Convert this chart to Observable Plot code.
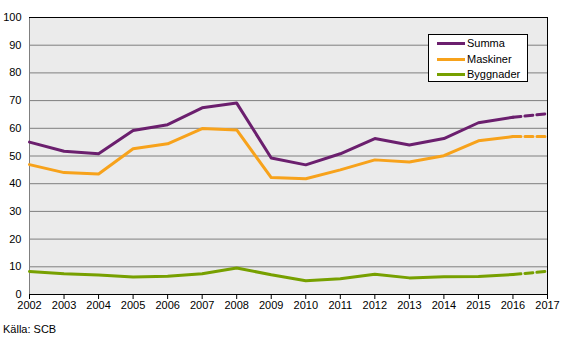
<!DOCTYPE html>
<html>
<head>
<meta charset="utf-8">
<script src="https://cdn.jsdelivr.net/npm/d3@7"></script>
<script src="https://cdn.jsdelivr.net/npm/@observablehq/plot@0.6"></script>
<style>
  html, body { margin: 0; padding: 0; background: #fff; }
  body { width: 567px; height: 341px; position: relative; font-family: "Liberation Sans", Arial, sans-serif; overflow: hidden; }
  #chart svg { display: block; }
  #caption { font-size: 11px; line-height: 13px; padding: 5px 0 0 3px; color: #000; }
  #legend { position: absolute; left: 428px; top: 34px; width: 98px; height: 46px; border: 1px solid #000; background: #fff; font-size: 11px; }
  .row { position: absolute; left: 8px; height: 14px; display: flex; align-items: center; }
  .sw { width: 28px; height: 3px; margin-right: 2px; }
</style>
</head>
<body>
<div id="chart"></div>
<div id="caption">Källa: SCB</div>
<div id="legend"></div>
<script>
const years = [2002,2003,2004,2005,2006,2007,2008,2009,2010,2011,2012,2013,2014,2015,2016,2017];
const seriesNames = ["Summa","Maskiner","Byggnader"];
const seriesColors = ["#6b1f6e","#f7a21b","#77a000"];
const summa =     [55.0,51.7,50.8,59.2,61.3,67.4,69.1,49.3,46.8,50.8,56.3,54.0,56.3,62.0,64.0,65.3];
const maskiner =  [46.9,44.0,43.5,52.6,54.4,59.9,59.4,42.2,41.8,45.0,48.6,47.8,50.1,55.5,57.0,57.0];
const byggnader = [8.3,7.5,7.0,6.3,6.6,7.5,9.6,7.1,5.0,5.7,7.3,6.0,6.4,6.5,7.2,8.4];
const yTicks = [0,10,20,30,40,50,60,70,80,90,100];
const lastActual = 2016;

const valuesBySeries = [summa, maskiner, byggnader];
const data = [];
seriesNames.forEach((s, i) => years.forEach((y, j) => data.push({series: s, year: y, value: valuesBySeries[i][j]})));

const colorScale = {domain: seriesNames, range: seriesColors};

const chart = Plot.plot({
  width: 567,
  height: 318,
  marginLeft: 29,
  marginRight: 20,
  marginTop: 17,
  marginBottom: 24,
  style: {fontFamily: "Liberation Sans, Arial, sans-serif", fontSize: "11px", color: "#000", background: "transparent"},
  x: {domain: [2002, 2017], label: null},
  y: {domain: [0, 100], label: null},
  color: colorScale,
  marks: [
    Plot.frame({fill: "#ebebeb", stroke: "none"}),
    Plot.ruleY(yTicks.filter(t => t > 0 && t < 100), {stroke: "#7f7f7f", strokeWidth: 1}),
    Plot.ruleX([2002], {stroke: "#7f7f7f", strokeWidth: 1}),
    Plot.ruleX([2017], {stroke: "#000", strokeWidth: 1}),
    Plot.ruleY([100], {stroke: "#000", strokeWidth: 1}),
    Plot.line(data.filter(d => d.year <= lastActual), {x: "year", y: "value", z: "series", stroke: "series", strokeWidth: 3, strokeLinejoin: "round"}),
    Plot.line(data.filter(d => d.year >= lastActual), {x: "year", y: "value", z: "series", stroke: "series", strokeWidth: 3, strokeDasharray: "8,4"}),
    Plot.ruleY([0], {stroke: "#000", strokeWidth: 1}),
    Plot.axisX({ticks: years, tickFormat: d => String(d), tickSize: 5, tickPadding: 2, stroke: "#000", fill: "#000", fontSize: 11, label: null}),
    Plot.axisY({ticks: yTicks, tickSize: 0, tickPadding: 8, fill: "#000", fontSize: 11, label: null})
  ]
});
document.getElementById("chart").appendChild(chart);

const legend = document.getElementById("legend");
const rowTops = [1, 17, 32];
seriesNames.forEach((s, i) => {
  const row = document.createElement("div");
  row.className = "row";
  row.style.top = rowTops[i] + "px";
  const sw = document.createElement("span");
  sw.className = "sw";
  sw.style.background = seriesColors[i];
  const t = document.createElement("span");
  t.textContent = s;
  row.appendChild(sw);
  row.appendChild(t);
  legend.appendChild(row);
});
</script>
</body>
</html>
